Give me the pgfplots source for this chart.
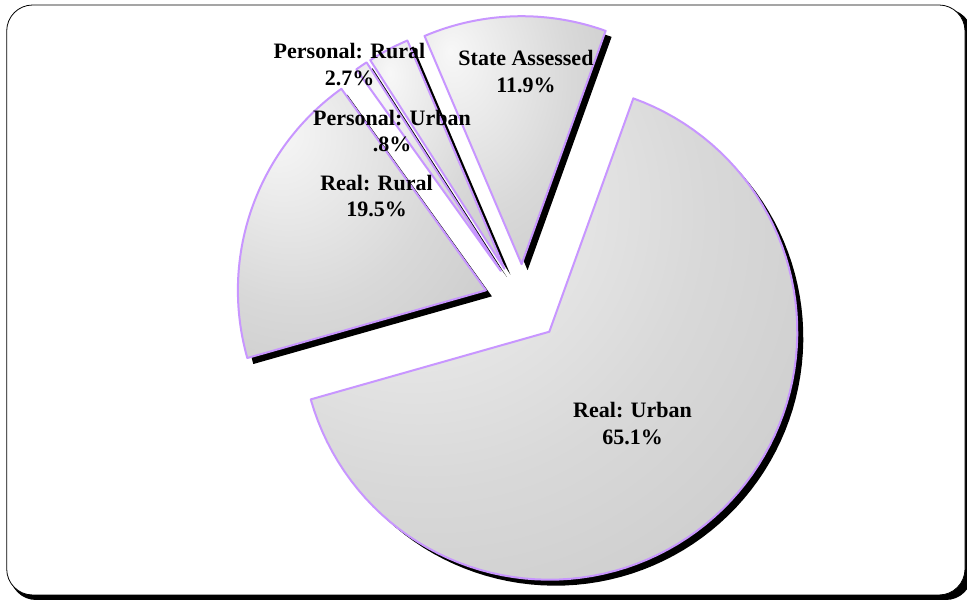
\documentclass[border=0pt]{standalone}
\usepackage{pgfplots}
\pgfplotsset{compat=1.18}
\usepackage{fontspec}
\setmainfont{Liberation Serif}
\definecolor{edge}{RGB}{200,150,255}
\pgfdeclareradialshading{piefill}{\pgfpoint{-18bp}{18bp}}{color(0bp)=(white!97!black); color(28bp)=(white!85!black); color(55bp)=(white!77!black); color(100bp)=(white!75!black)}
% data (percent)
\def\vUrban{65.1}
\def\vState{11.9}
\def\vPRural{2.7}
\def\vPUrban{0.8}
\def\vRRural{19.5}
% geometry (image pixel units)
\def\cx{522.7}\def\cy{303.2}\def\R{248}\def\D{39}
\pgfmathsetmacro\bU{70.2}
\pgfmathsetmacro\aU{\bU-3.6*\vUrban}
\pgfmathsetmacro\bS{\bU+3.6*\vState}
\pgfmathsetmacro\bPR{\bS+3.6*\vPRural}
\pgfmathsetmacro\bPU{\bPR+3.6*\vPUrban}
\pgfmathsetmacro\bRR{\bPU+3.6*\vRRural}
\newcommand\pieslice[4]{%
  \pgfmathsetmacro\mm{(#1+#2)/2}%
  \pgfmathsetmacro\vx{\cx+\D*cos(\mm)+#3}%
  \pgfmathsetmacro\vy{\cy-\D*sin(\mm)+#3}%
  \edef\doit{\noexpand\addplot[#4, domain=#1:#2, samples=90, variable=\noexpand\t] ({\vx+\R*cos(\noexpand\t)},{\vy-\R*sin(\noexpand\t)}) -- (axis cs:\vx,\vy) -- cycle;}%
  \doit
}
\begin{document}
\begin{tikzpicture}
\path[use as bounding box] (0,0) rectangle (967pt,601pt);
% frame
\fill[black, rounded corners=26pt] (10pt,1pt) rectangle (972pt,592pt);
\draw[black, line width=0.8pt, fill=white, rounded corners=26pt] (6.7pt,6pt) rectangle (965pt,596pt);
\begin{axis}[
  at={(0,0)}, anchor=south west,
  width=967pt, height=601pt, scale only axis,
  xmin=0, xmax=967, ymin=0, ymax=601, y dir=reverse,
  hide axis, clip=false,
  nodes={font=\fontsize{22}{26.5}\selectfont\bfseries, align=center, inner sep=0pt},
]
% shadows
\pieslice{\aU}{\bU}{6}{fill=black, draw=none}
\pieslice{\bU}{\bS}{6}{fill=black, draw=none}
\pieslice{\bS}{\bPR}{6}{fill=black, draw=none}
\pieslice{\bPR}{\bPU}{6}{fill=black, draw=none}
\pieslice{\bPU}{\bRR}{6}{fill=black, draw=none}
% slices
\pieslice{\aU}{\bU}{0}{shade, shading=piefill, draw=edge, line width=2pt, line join=round}
\pieslice{\bU}{\bS}{0}{shade, shading=piefill, draw=edge, line width=2pt, line join=round}
\pieslice{\bS}{\bPR}{0}{shade, shading=piefill, draw=edge, line width=2pt, line join=round}
\pieslice{\bPR}{\bPU}{0}{shade, shading=piefill, draw=edge, line width=2pt, line join=round}
\pieslice{\bPU}{\bRR}{0}{shade, shading=piefill, draw=edge, line width=2pt, line join=round}
% labels
\node at (axis cs:632.5,423.3) {Real: Urban\\65.1\%};
\node at (axis cs:526,71.5) {State Assessed\\11.9\%};
\node at (axis cs:349.5,64.5) {Personal: Rural\\2.7\%};
\node at (axis cs:392,131) {Personal: Urban\\.8\%};
\node at (axis cs:376.5,196) {Real: Rural\\19.5\%};
\end{axis}
\end{tikzpicture}
\end{document}
